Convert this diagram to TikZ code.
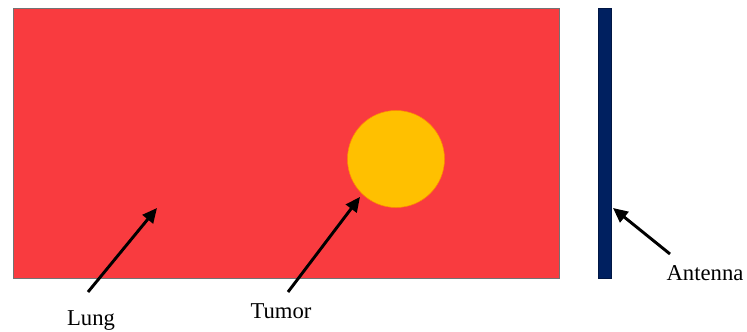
\documentclass[tikz,border=0pt]{standalone}
\usepackage{fontspec}
\setmainfont{Liberation Serif}
\usetikzlibrary{arrows.meta}
\definecolor{lungred}{HTML}{F93B3F}
\definecolor{tumorgold}{HTML}{FFC000}
\definecolor{antblue}{HTML}{002060}
\tikzset{
  ptr/.style={line width=2.2pt,-{Triangle[length=11pt,width=10pt]}},
  lbl/.style={inner sep=0pt,anchor=base,font=\fontsize{17}{20}\selectfont},
}
\begin{document}
\begin{tikzpicture}[x=0.75pt,y=-0.75pt]
\useasboundingbox (0,0) rectangle (747,332);
\node (lung) [draw=black!55,line width=0.6pt,fill=lungred,minimum width=546*0.75pt,minimum height=270*0.75pt,inner sep=0pt,anchor=north west] at (12.5,7.5) {};
\node (tumor) [circle,fill=tumorgold,draw=orange!80!tumorgold,line width=0.4pt,minimum size=97*0.75pt,inner sep=0pt] at (396,159) {};
\node (antenna) [draw=antblue!70!black,line width=0.5pt,fill=antblue,minimum width=12.5*0.75pt,minimum height=270*0.75pt,inner sep=0pt,anchor=north west] at (598,7.5) {};
\node (lunglbl) [lbl] at (91,325) {Lung};
\node (tumorlbl) [lbl] at (281,318) {Tumor};
\node (antlbl) [lbl] at (705,280) {Antenna};
\coordinate (lungtail) at (88,292);
\coordinate (lungtip) at (157,208);
\coordinate (tumortail) at (288,292);
\coordinate (tumortip) at (360,197);
\coordinate (anttail) at (670,254);
\coordinate (anttip) at (613,208);
\draw[ptr] (lungtail) -- (lungtip);
\draw[ptr] (tumortail) -- (tumortip);
\draw[ptr] (anttail) -- (anttip);
\end{tikzpicture}
\end{document}
